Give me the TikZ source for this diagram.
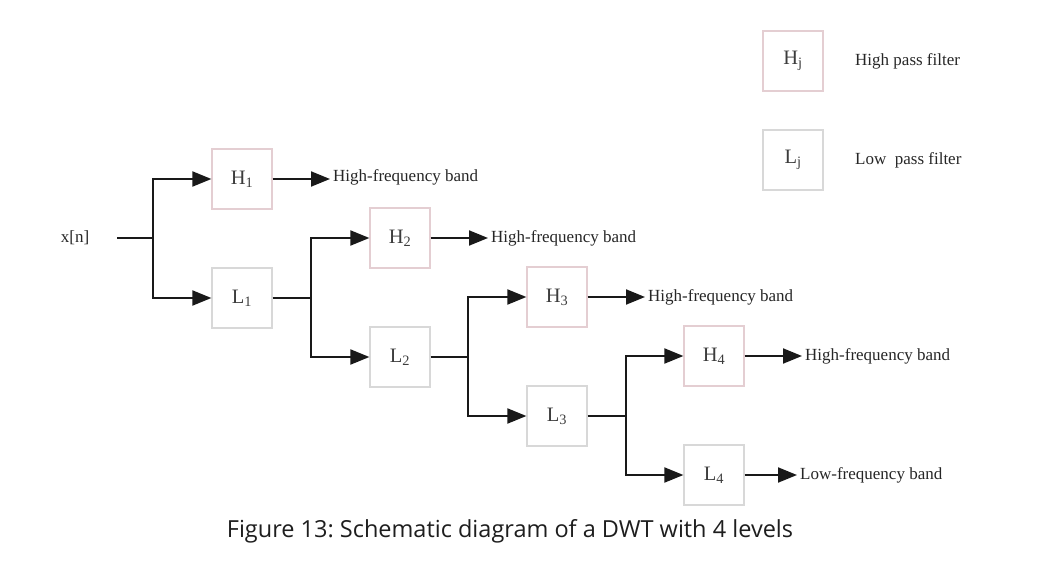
\documentclass[tikz,border=0pt]{standalone}
\usepackage{fontspec}
\setmainfont{Liberation Serif}
\newfontfamily\captionfont{Open Sans}
\usetikzlibrary{arrows.meta}
\usetikzlibrary{positioning}

\definecolor{hiedge}{RGB}{228,206,210}
\definecolor{loedge}{RGB}{216,216,216}
\definecolor{labelgray}{RGB}{60,60,60}
\definecolor{captiongray}{RGB}{30,30,30}

\tikzset{
	filterbox/.style={draw, line width=1.2pt, minimum width=60pt, minimum height=60pt, inner sep=0pt, text=labelgray, font=\fontsize{20.5}{22}\selectfont},
	hibox/.style={filterbox, draw=hiedge},
	lobox/.style={filterbox, draw=loedge},
	bandtext/.style={inner sep=3pt, anchor=west, font=\fontsize{17}{19}\selectfont, text=black!85},
	wire/.style={line width=1.9pt, black!90},
	feed/.style={wire, -{Triangle[length=19pt,width=15pt]}}
}

\begin{document}
\begin{tikzpicture}[x=1pt, y=-1pt]
			\useasboundingbox (0,0) rectangle (1056,561);
			
			% input and filters
			\node[bandtext, anchor=center] (xn) at (75,238) {x[n]};
			\node[hibox] (H1) at (242,179) {H\textsubscript{1}};
			\node[lobox] (L1) at (242,298) {L\textsubscript{1}};
			\node[hibox] (H2) at (400,238) {H\textsubscript{2}};
			\node[lobox] (L2) at (400,357) {L\textsubscript{2}};
			\node[hibox] (H3) at (557,297) {H\textsubscript{3}};
			\node[lobox] (L3) at (557,416) {L\textsubscript{3}};
			\node[hibox] (H4) at (714,356) {H\textsubscript{4}};
			\node[lobox] (L4) at (714,475) {L\textsubscript{4}};
			
			% output bands
			\node[bandtext] (B1) at (330,177) {High-frequency band};
			\node[bandtext] (B2) at (488,238) {High-frequency band};
			\node[bandtext] (B3) at (645,297) {High-frequency band};
			\node[bandtext] (B4) at (802,356) {High-frequency band};
			\node[bandtext] (B5) at (797,475) {Low-frequency band};
			
			% branch points
			\coordinate (s0) at (153,238);
			\coordinate (s1) at (311,298);
			\coordinate (s2) at (468,357);
			\coordinate (s3) at (626,416);
			
			\draw[wire, shorten <=25pt] (xn.east) -- (s0);
			\draw[feed] (s0) |- (H1.west);
			\draw[feed] (s0) |- (L1.west);
			\draw[wire] (L1.east) -- (s1);
			\draw[feed] (s1) |- (H2.west);
			\draw[feed] (s1) |- (L2.west);
			\draw[wire] (L2.east) -- (s2);
			\draw[feed] (s2) |- (H3.west);
			\draw[feed] (s2) |- (L3.west);
			\draw[wire] (L3.east) -- (s3);
			\draw[feed] (s3) |- (H4.west);
			\draw[feed] (s3) |- (L4.west);
			
			\draw[feed] (H1.east) -- (B1.west |- H1.east);
			\draw[feed] (H2.east) -- (B2.west);
			\draw[feed] (H3.east) -- (B3.west);
			\draw[feed] (H4.east) -- (B4.west);
			\draw[feed] (L4.east) -- (B5.west);
			
			% legend
			\node[hibox] (Hj) at (793,61) {H\textsubscript{j}};
			\node[lobox] (Lj) at (793,160) {L\textsubscript{j}};
			\node[bandtext, inner sep=0pt] (hpf) at (855,61) {High pass filter};
			\node[bandtext, inner sep=0pt] (lpf) at (855,160) {Low\ \ pass filter};
			
			% caption
			\node[text=captiongray, font=\captionfont\fontsize{23.5}{26}\selectfont] (cap) at (510,531) {\frenchspacing Figure 13: Schematic diagram of a DWT with 4 levels};
		\end{tikzpicture}
\end{document}
